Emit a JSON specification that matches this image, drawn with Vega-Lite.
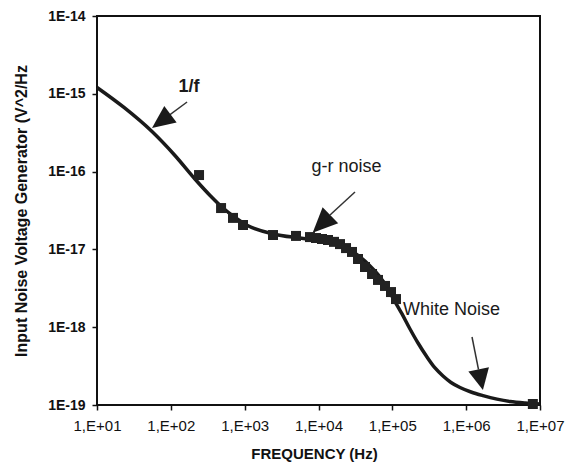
{
  "$schema": "https://vega.github.io/schema/vega-lite/v6.json",
  "width": 443,
  "height": 389,
  "autosize": "none",
  "padding": {"left": 97, "top": 16, "right": 35, "bottom": 63},
  "background": "white",
  "config": {
    "view": {"stroke": "#111", "strokeWidth": 2},
    "font": "Liberation Sans"
  },
  "datasets": {
    "curve": [
      {"f": 10, "s": 1.205e-15},
      {"f": 23.2, "s": 6.67e-16},
      {"f": 55.6, "s": 3.27e-16},
      {"f": 113.7, "s": 1.61e-16},
      {"f": 212, "s": 8.03e-17},
      {"f": 340, "s": 4.93e-17},
      {"f": 509, "s": 3.40e-17},
      {"f": 740, "s": 2.57e-17},
      {"f": 1076, "s": 2.04e-17},
      {"f": 2421, "s": 1.58e-17},
      {"f": 5617, "s": 1.401e-17},
      {"f": 10478, "s": 1.301e-17},
      {"f": 19552, "s": 1.139e-17},
      {"f": 26720, "s": 9.82e-18},
      {"f": 36480, "s": 7.99e-18},
      {"f": 49840, "s": 6.12e-18},
      {"f": 68080, "s": 4.42e-18},
      {"f": 84730, "s": 3.29e-18},
      {"f": 102100, "s": 2.37e-18},
      {"f": 135200, "s": 1.48e-18},
      {"f": 173500, "s": 9.48e-19},
      {"f": 222700, "s": 6.26e-19},
      {"f": 294800, "s": 4.14e-19},
      {"f": 378400, "s": 2.99e-19},
      {"f": 485700, "s": 2.36e-19},
      {"f": 623300, "s": 1.95e-19},
      {"f": 825100, "s": 1.68e-19},
      {"f": 1163000, "s": 1.47e-19},
      {"f": 1690000, "s": 1.32e-19},
      {"f": 2616000, "s": 1.19e-19},
      {"f": 3924000, "s": 1.11e-19},
      {"f": 6266000, "s": 1.06e-19},
      {"f": 10000000, "s": 1.03e-19}
    ],
    "markers": [
      {"f": 241, "s": 9.03e-17},
      {"f": 479, "s": 3.40e-17},
      {"f": 695, "s": 2.54e-17},
      {"f": 950, "s": 2.06e-17},
      {"f": 2420, "s": 1.53e-17},
      {"f": 4955, "s": 1.49e-17},
      {"f": 7670, "s": 1.44e-17},
      {"f": 9250, "s": 1.40e-17},
      {"f": 11150, "s": 1.36e-17},
      {"f": 13450, "s": 1.32e-17},
      {"f": 16220, "s": 1.25e-17},
      {"f": 19550, "s": 1.17e-17},
      {"f": 23600, "s": 1.04e-17},
      {"f": 28450, "s": 9.27e-18},
      {"f": 34300, "s": 7.53e-18},
      {"f": 42650, "s": 5.94e-18},
      {"f": 53100, "s": 4.83e-18},
      {"f": 64000, "s": 4.05e-18},
      {"f": 79600, "s": 3.39e-18},
      {"f": 96000, "s": 2.83e-18},
      {"f": 112200, "s": 2.30e-18},
      {"f": 8000000, "s": 1.03e-19}
    ],
    "arrows": [
      {"f": 166, "s": 7.85e-16, "f2": 74.1, "s2": 4.46e-16},
      {"f": 31200, "s": 5.47e-17, "f2": 14320, "s2": 2.77e-17},
      {"f": 1200000, "s": 7.48e-19, "f2": 1469000, "s2": 2.86e-19}
    ],
    "head1": [{"f": 74.1, "s": 4.46e-16}],
    "head2": [{"f": 10990, "s": 2.12e-17}],
    "head3": [{"f": 1578000, "s": 2.11e-19}],
    "labelsBold": [{"f": 176, "s": 1.22e-15, "t": "1/f"}],
    "labels": [
      {"f": 23900, "s": 1.15e-16, "t": "g-r noise"},
      {"f": 632000, "s": 1.66e-18, "t": "White Noise"}
    ]
  },
  "encoding": {
    "x": {
      "field": "f",
      "type": "quantitative",
      "scale": {"type": "log", "domain": [10, 10000000], "nice": false},
      "axis": {
        "title": "FREQUENCY (Hz)",
        "values": [10, 100, 1000, 10000, 100000, 1000000, 10000000],
        "labelExpr": "'1,E+' + format(round(log(datum.value)/LN10), '02d')",
        "grid": false,
        "domain": false,
        "tickColor": "#111",
        "tickSize": 5,
        "tickWidth": 1.5,
        "labelFont": "Liberation Sans",
        "labelFontSize": 15,
        "labelColor": "#111",
        "labelPadding": 8,
        "labelFlush": false,
        "labelOverlap": false,
        "titleFont": "Liberation Sans",
        "titleFontSize": 15,
        "titleFontWeight": "bold",
        "titleColor": "#111",
        "titleX": 217,
        "titleAlign": "center",
        "titleY": 48,
        "titleBaseline": "middle"
      }
    },
    "y": {
      "field": "s",
      "type": "quantitative",
      "scale": {"type": "log", "domain": [1e-19, 1e-14], "nice": false},
      "axis": {
        "title": "Input Noise Voltage Generator (V^2/Hz",
        "values": [1e-19, 1e-18, 1e-17, 1e-16, 1e-15, 1e-14],
        "labelExpr": "'1E' + round(log(datum.value)/LN10)",
        "grid": false,
        "domain": false,
        "tickColor": "#111",
        "tickSize": 5,
        "tickWidth": 1.5,
        "labelFont": "Liberation Sans",
        "labelFontSize": 14,
        "labelFontWeight": "bold",
        "labelColor": "#111",
        "labelPadding": 7,
        "labelFlush": false,
        "labelOverlap": false,
        "titleFont": "Liberation Sans",
        "titleFontSize": 16,
        "titleFontWeight": "bold",
        "titleColor": "#111",
        "titleX": -76,
        "titleY": 194.5,
        "titleAngle": -90,
        "titleBaseline": "middle",
        "titleAlign": "center"
      }
    }
  },
  "layer": [
    {
      "data": {"name": "curve"},
      "mark": {"type": "line", "color": "#1a1a1a", "strokeWidth": 3.5, "interpolate": "monotone"}
    },
    {
      "data": {"name": "markers"},
      "mark": {"type": "point", "shape": "square", "filled": true, "size": 100, "color": "#222", "opacity": 1}
    },
    {
      "data": {"name": "arrows"},
      "mark": {"type": "rule", "color": "#333", "strokeWidth": 1.5},
      "encoding": {"x2": {"field": "f2"}, "y2": {"field": "s2"}}
    },
    {
      "data": {"name": "head1"},
      "mark": {"type": "point", "shape": "M-0.9,1L0.9,1L0,-1Z", "filled": true, "size": 529, "angle": 233.4, "color": "#1a1a1a", "opacity": 1}
    },
    {
      "data": {"name": "head2"},
      "mark": {"type": "point", "shape": "M-0.9,1L0.9,1L0,-1Z", "filled": true, "size": 615, "angle": 225.7, "color": "#1a1a1a", "opacity": 1}
    },
    {
      "data": {"name": "head3"},
      "mark": {"type": "point", "shape": "M-1,1L1,1L0,-1Z", "filled": true, "size": 441, "angle": 168.3, "color": "#1a1a1a", "opacity": 1}
    },
    {
      "data": {"name": "labelsBold"},
      "mark": {"type": "text", "font": "Liberation Sans", "fontSize": 18, "fontWeight": "bold", "color": "#1a1a1a", "align": "center", "baseline": "middle"},
      "encoding": {"text": {"field": "t"}}
    },
    {
      "data": {"name": "labels"},
      "mark": {"type": "text", "font": "Liberation Sans", "fontSize": 18, "color": "#1a1a1a", "align": "center", "baseline": "middle"},
      "encoding": {"text": {"field": "t"}}
    }
  ]
}
